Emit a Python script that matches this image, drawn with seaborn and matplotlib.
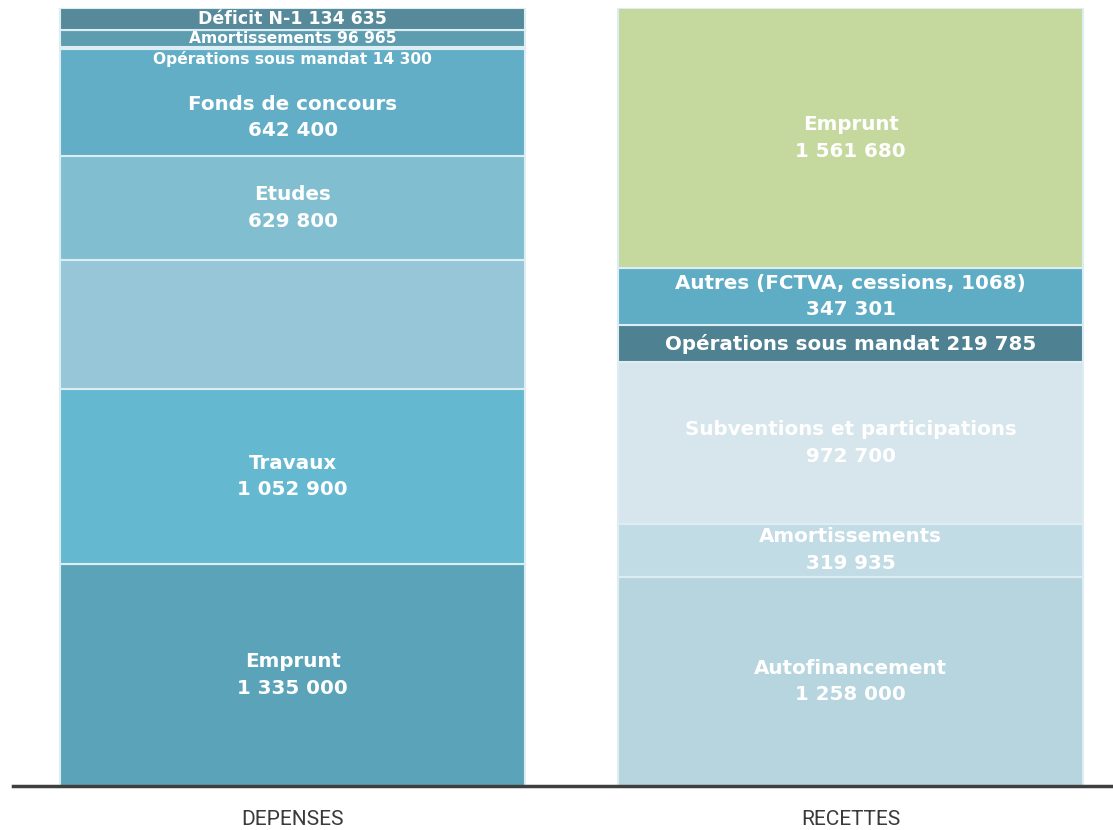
import matplotlib
matplotlib.use("Agg")
import matplotlib.pyplot as plt
import seaborn as sns

sns.set_theme(style="white")
plt.rcParams["font.family"] = ["DejaVu Sans"]

# ---------- Data ----------
categories = ["DEPENSES", "RECETTES"]

# bottom -> top
dep_labels = ["Emprunt", "Travaux", "", "Etudes", "Fonds de concours",
              "Opérations sous mandat", "Amortissements", "Déficit N-1"]
dep_values = [1335000, 1052900, 773401, 629800, 642400, 14300, 96965, 134635]
dep_colors = ["#5aa3b8", "#64b8cf", "#97c6d9", "#81bfd0", "#62aec7",
              "#8cc4d6", "#5e9db0", "#568a9a"]

rec_labels = ["Autofinancement", "Amortissements", "Subventions et participations",
              "Opérations sous mandat", "Autres (FCTVA, cessions, 1068)", "Emprunt"]
rec_values = [1258000, 319935, 972700, 219785, 347301, 1561680]
rec_colors = ["#b6d5df", "#c2dce5", "#d6e6ec", "#4e8191", "#5eadc5", "#c5d89e"]


def fmt(v):
    return f"{v:,}".replace(",", " ")


fig = plt.figure(figsize=(11.13, 8.30), dpi=100)
ax = fig.add_axes([13 / 1113, 1 - 786 / 830, 1100 / 1113, 778 / 830])

bar_w = 0.833
stacks = [(dep_labels, dep_values, dep_colors), (rec_labels, rec_values, rec_colors)]
for x, (labels, values, colors) in enumerate(stacks):
    bottom = 0
    for i, (lab, val, col) in enumerate(zip(labels, values, colors)):
        ax.bar(x, val, bottom=bottom, width=bar_w, color=col,
               edgecolor="#dceef4", linewidth=1.5)
        mid = bottom + val / 2
        if lab:
            if val < 250000:
                text = f"{lab} {fmt(val)}"
                if val > 200000:
                    size = 14.3
                elif val > 100000:
                    size = 12.5
                else:
                    size = 11.2
            else:
                text = f"{lab}\n{fmt(val)}"
                size = 14.3
            dy = 0
            if val < 50000:
                # tiny slice: label sits just under it
                dy = -8
            elif i + 1 < len(values) and values[i + 1] < 50000:
                # make room for the tiny slice label above
                dy = -11
            ax.annotate(text, (x, mid), xytext=(0, dy), textcoords="offset points",
                        ha="center", va="center", color="white",
                        fontsize=size, fontweight="bold", linespacing=1.5)
        bottom += val

ax.set_xlim(-0.501, 1.470)
ax.set_ylim(0, sum(rec_values) * 1.0)
ax.set_xticks(range(len(categories)))
ax.set_xticklabels(categories, fontsize=15, color="#3a3a3a",
                   fontfamily="Roboto", fontweight="normal")
ax.tick_params(axis="x", length=0, pad=17)
ax.set_yticks([])
for s in ["left", "right", "top"]:
    ax.spines[s].set_visible(False)
ax.spines["bottom"].set_color("#3f3f3f")
ax.spines["bottom"].set_linewidth(2.5)
ax.set_facecolor("white")

fig.savefig("out.png", dpi=100)
